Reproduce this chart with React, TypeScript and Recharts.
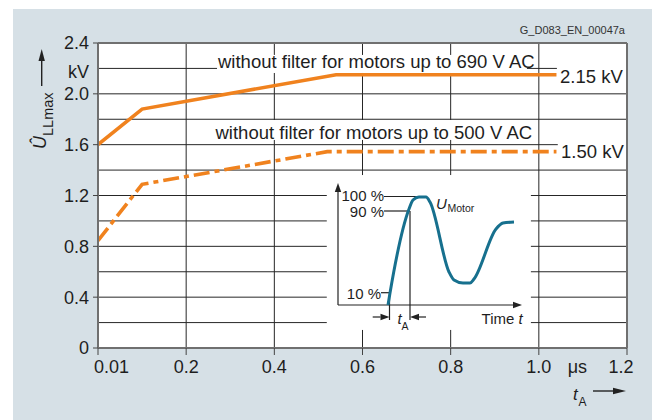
import React from 'react';
import { LineChart, Line, XAxis, YAxis, CartesianGrid, ReferenceLine } from 'recharts';

const FONT = '"Liberation Sans", Arial, sans-serif';
const ORANGE = '#f0821e';
const TEAL = '#17708e';
const INK = '#1e1e1e';
const GRID = '#262626';
const FRAME = '#707070';

// ---- axes ----
const xTicks = [0, 0.2, 0.4, 0.6, 0.8, 1.0, 1.1, 1.2];
const xTickLabels = ['0.01', '0.2', '0.4', '0.6', '0.8', '1.0', 'μs', '1.2'];
const yTicks = [0, 0.4, 0.8, 1.2, 1.6, 2.0, 2.2, 2.4];
const yTickLabels = ['0', '0.4', '0.8', '1.2', '1.6', '2.0', 'kV', '2.4'];

// ---- series: rise time tA (µs) vs. peak voltage Û_LLmax (kV) ----
const tA690 = [0, 0.1, 0.54, 1.04];
const u690 = [1.6, 1.88, 2.15, 2.15];
const tA500 = [0, 0.1, 0.52, 1.04];
const u500 = [0.845, 1.288, 1.545, 1.545];

// ---- inset: schematic motor voltage vs. time ----
const insetT = [50, 52, 71, 75, 81, 88, 92, 111, 116, 125, 132, 136, 158, 165, 176];
const insetV = [0, 12, 96, 105, 108, 108, 103, 33, 25, 22, 22, 26, 76, 82, 83];

// ---- grid segments (gaps where labels / inset sit) ----
const hGridLevels = [0.2, 0.4, 0.6, 0.8, 1.0, 1.2, 1.4, 1.6, 1.8, 2.0, 2.2];
const insetGapH: [number, number][] = [[0, 0.519], [0.982, 1.2]];
const hGridSpans: [number, number][][] = [
  insetGapH, insetGapH, insetGapH, insetGapH, insetGapH, insetGapH,
  [[0, 1.2]],
  [[0, 1.043]],
  [[0, 1.2]],
  [[0, 1.2]],
  [[0, 0.27], [0.973, 1.041]],
];
const vGridLevels = [0.2, 0.4, 0.6, 0.8, 1.0];
const labelGapV: [number, number][] = [[0, 0.142], [1.361, 1.637], [1.794, 2.164], [2.306, 2.4]];
const vGridSpans: [number, number][][] = [
  [[0, 2.4]],
  [[0, 1.637], [1.794, 2.164], [2.306, 2.4]],
  labelGapV,
  labelGapV,
  [[0, 2.4]],
];

const data690 = tA690.map((t, i) => ({ t, u: u690[i] }));
const data500 = tA500.map((t, i) => ({ t, u: u500[i] }));
const insetData = insetT.map((t, i) => ({ t, v: insetV[i] }));

type Guide = { from: [number, number]; to: [number, number]; arrow?: boolean };
const insetGuides: Guide[] = [
  { from: [0, 0], to: [0, 122], arrow: true },
  { from: [0, 0], to: [184, 0], arrow: true },
  { from: [46, 108.5], to: [88, 108.5] },
  { from: [46, 94], to: [72, 94] },
  { from: [72, 94], to: [72, -15] },
  { from: [43, 12.3], to: [51.5, 12.3] },
  { from: [51.5, 12.3], to: [51.5, -15] },
  { from: [34.7, -12], to: [51.5, -12], arrow: true },
  { from: [88, -12], to: [72, -12], arrow: true },
];

const arrowShape = (withHead: boolean) => (p: any) => {
  const { x1, y1, x2, y2 } = p;
  const dx = x2 - x1;
  const dy = y2 - y1;
  const len = Math.hypot(dx, dy) || 1;
  const ux = dx / len;
  const uy = dy / len;
  const L = 9;
  const W = 3.2;
  if (!withHead) {
    return <line x1={x1} y1={y1} x2={x2} y2={y2} stroke="#222" strokeWidth={1.2} />;
  }
  const bx = x2 - ux * L;
  const by = y2 - uy * L;
  return (
    <g>
      <line x1={x1} y1={y1} x2={bx} y2={by} stroke="#222" strokeWidth={1.2} />
      <polygon
        points={`${x2},${y2} ${bx - uy * W},${by + ux * W} ${bx + uy * W},${by - ux * W}`}
        fill="#222"
      />
    </g>
  );
};

const XTick = (p: any) => {
  const { x, y, payload } = p;
  const i = xTicks.indexOf(payload.value);
  const label = xTickLabels[i];
  const isUnit = label === 'μs';
  let anchor: 'start' | 'middle' | 'end' = 'middle';
  let dx = 0;
  if (i === 0) {
    anchor = 'start';
    dx = -4;
  }
  if (payload.value === 1.2) dx = -6;
  if (isUnit) dx = -5.5;
  return (
    <g>
      {!isUnit && <line x1={x} x2={x} y1={y} y2={y + 7} stroke="#444" strokeWidth={1} />}
      <text x={x + dx} y={y + 25.3} textAnchor={anchor} fontSize={18} fontFamily={FONT} fill={INK}>
        {label}
      </text>
    </g>
  );
};

const YTick = (p: any) => {
  const { x, y, payload } = p;
  const i = yTicks.indexOf(payload.value);
  const label = yTickLabels[i];
  const isUnit = label === 'kV';
  return (
    <g>
      {!isUnit && <line x1={x - 5} x2={x} y1={y} y2={y} stroke="#444" strokeWidth={1} />}
      <text
        x={x - 9}
        y={y + (isUnit ? 3.3 : 0)}
        dy="0.355em"
        textAnchor="end"
        fontSize={18}
        fontFamily={FONT}
        fill={INK}
      >
        {label}
      </text>
    </g>
  );
};

export default function App() {
  return (
    <div style={{ position: 'absolute', left: 0, top: 0, width: 652, height: 420, overflow: 'hidden', background: '#fff' }}>
      <div style={{ position: 'absolute', left: 13, top: 9, width: 639, height: 411, background: '#d6e0e6' }} />

      <LineChart
        width={652}
        height={420}
        margin={{ top: 43, right: 25, bottom: 42, left: 58 }}
        style={{ position: 'absolute', left: 0, top: 0 }}
      >
        <CartesianGrid fill="#ffffff" horizontal={false} vertical={false} />
        <XAxis
          type="number"
          dataKey="t"
          domain={[0, 1.2]}
          ticks={xTicks}
          interval={0}
          tick={(p: any) => <XTick {...p} />}
          tickLine={false}
          tickSize={0}
          tickMargin={0}
          height={30}
          axisLine={{ stroke: FRAME, strokeWidth: 2 }}
          allowDataOverflow
        />
        <YAxis
          type="number"
          domain={[0, 2.4]}
          ticks={yTicks}
          interval={0}
          tick={(p: any) => <YTick {...p} />}
          tickLine={false}
          tickSize={0}
          tickMargin={0}
          width={40}
          axisLine={{ stroke: FRAME, strokeWidth: 2 }}
          allowDataOverflow
        />
        {hGridLevels.flatMap((lv, i) =>
          hGridSpans[i].map((s, j) => (
            <ReferenceLine
              key={`h${i}-${j}`}
              segment={[{ x: s[0], y: lv }, { x: s[1], y: lv }]}
              stroke={GRID}
              strokeWidth={1}
              zIndex={-50}
            />
          ))
        )}
        {vGridLevels.flatMap((lv, i) =>
          vGridSpans[i].map((s, j) => (
            <ReferenceLine
              key={`v${i}-${j}`}
              segment={[{ x: lv, y: s[0] }, { x: lv, y: s[1] }]}
              stroke={GRID}
              strokeWidth={1}
              zIndex={-50}
            />
          ))
        )}
        <ReferenceLine y={2.4} stroke={FRAME} strokeWidth={2} />
        <ReferenceLine x={1.2} stroke={FRAME} strokeWidth={2} />
        <Line
          data={data690}
          dataKey="u"
          type="linear"
          stroke={ORANGE}
          strokeWidth={3.6}
          dot={false}
          activeDot={false}
          isAnimationActive={false}
        />
        <Line
          data={data500}
          dataKey="u"
          type="linear"
          stroke={ORANGE}
          strokeWidth={3.6}
          strokeDasharray="16 5 5 5"
          dot={false}
          activeDot={false}
          isAnimationActive={false}
        />
      </LineChart>

      <LineChart
        width={652}
        height={420}
        margin={{ top: 183, right: 130, bottom: 95, left: 338 }}
        style={{ position: 'absolute', left: 0, top: 0 }}
      >
        <XAxis type="number" dataKey="t" domain={[0, 184]} hide height={0} allowDataOverflow />
        <YAxis type="number" domain={[-20, 122]} hide width={0} allowDataOverflow />
        {insetGuides.map((g, i) => (
          <ReferenceLine
            key={`g${i}`}
            segment={[{ x: g.from[0], y: g.from[1] }, { x: g.to[0], y: g.to[1] }]}
            shape={arrowShape(!!g.arrow)}
          />
        ))}
        <Line
          data={insetData}
          dataKey="v"
          type="monotone"
          stroke={TEAL}
          strokeWidth={3}
          dot={false}
          activeDot={false}
          isAnimationActive={false}
        />
      </LineChart>

      <svg
        width={652}
        height={420}
        style={{ position: 'absolute', left: 0, top: 0, pointerEvents: 'none' }}
        fontFamily={FONT}
        fill={INK}
      >
        <text x={625} y={34} fontSize={11} textAnchor="end" fill="#333">G_D083_EN_00047a</text>
        <text x={218} y={67.5} fontSize={18.5}>without filter for motors up to 690 V AC</text>
        <text x={215.5} y={138.5} fontSize={18.5}>without filter for motors up to 500 V AC</text>
        <text x={560} y={83} fontSize={18.5}>2.15 kV</text>
        <text x={561} y={157.5} fontSize={18.5}>1.50 kV</text>

        {/* y-axis title */}
        <text transform="rotate(-90, 45.5, 149)" x={45.5} y={149}>
          <tspan fontSize={18} fontStyle="italic">Û</tspan>
          <tspan fontSize={14.5} dy={7.5}>LLmax</tspan>
        </text>
        <line x1={41.7} y1={86} x2={41.7} y2={60} stroke="#222" strokeWidth={1.4} />
        <polygon points="41.7,49 38.5,61 44.9,61" fill="#222" />

        {/* x-axis title */}
        <text x={573} y={400} fontSize={17} fontStyle="italic">t</text>
        <text x={578.5} y={405.5} fontSize={12}>A</text>
        <line x1={593} y1={391} x2={614} y2={391} stroke="#222" strokeWidth={1.4} />
        <polygon points="626,391 613,387.8 613,394.2" fill="#222" />

        {/* inset labels */}
        <text x={384} y={201.4} fontSize={15} textAnchor="end">100 %</text>
        <text x={384} y={217} fontSize={15} textAnchor="end">90 %</text>
        <text x={381} y={299} fontSize={15} textAnchor="end">10 %</text>
        <text x={436} y={208.7} fontSize={15} fontStyle="italic">U</text>
        <text x={447.5} y={211.5} fontSize={10.5}>Motor</text>
        <text x={397.5} y={323.7} fontSize={15} fontStyle="italic">t</text>
        <text x={401.5} y={330} fontSize={10.5}>A</text>
        <text x={522.7} y={323.7} fontSize={15} textAnchor="end">
          Time <tspan fontStyle="italic">t</tspan>
        </text>
      </svg>
    </div>
  );
}
